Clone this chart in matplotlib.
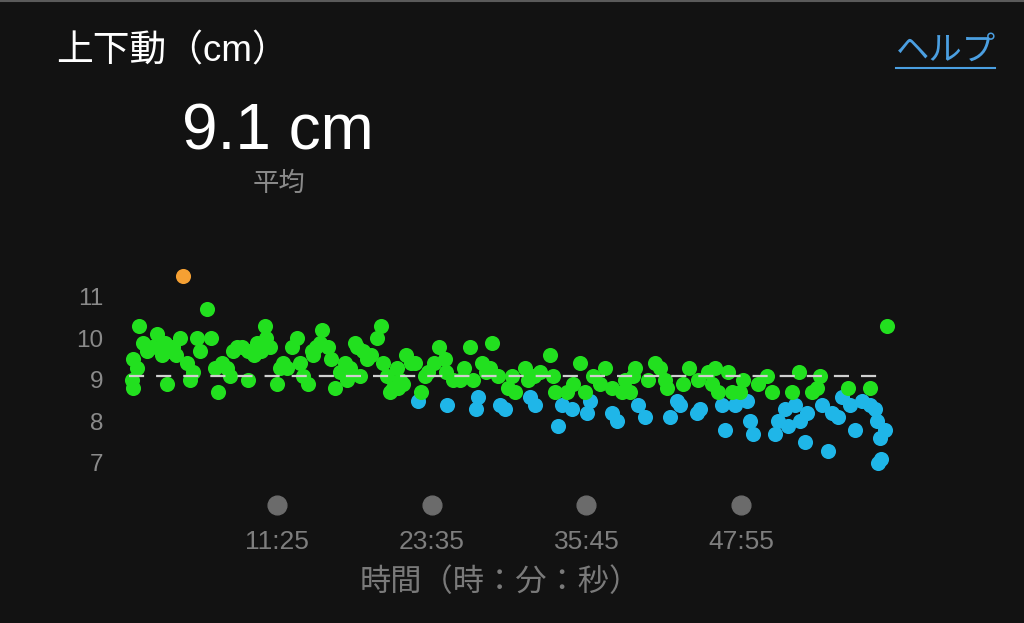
import matplotlib
matplotlib.use("Agg")
import matplotlib.pyplot as plt
from matplotlib.lines import Line2D
from matplotlib.ticker import FuncFormatter
import matplotlib.transforms as mtransforms

plt.rcParams["font.family"] = ["Liberation Sans", "Noto Sans CJK JP", "DejaVu Sans"]

# vertical oscillation samples: elapsed time (s) and value (cm), split by colour zone
green_time = [1, 6, 6, 25, 34, 53, 70, 95, 119, 133, 143, 155, 166, 180, 194, 210, 227,
              260, 275, 289, 308, 322, 355, 373, 393, 407, 426, 449, 463, 478, 497,
              520, 548, 550, 577, 591, 610, 629, 635, 652, 685, 700, 715, 732, 756,
              780, 794, 808, 832, 850, 855, 869, 888, 898, 926, 940, 959, 982, 1005,
              1015, 1030, 1053, 1063, 1077, 1090, 1110, 1128, 1157, 1175, 1185, 1204,
              1218, 1233, 1251, 1258, 1266, 1280, 1294, 1315, 1336, 1364, 1383, 1397,
              1426, 1450, 1478, 1483, 1516, 1549, 1568, 1596, 1610, 1652, 1670, 1690,
              1700, 1728, 1775, 1794, 1808, 1855, 1870, 1900, 1926, 1973, 1988, 1997,
              2054, 2082, 2115, 2139, 2176, 2209, 2233, 2266, 2313, 2327, 2351, 2365,
              2374, 2436, 2469, 2492, 2516, 2525, 2601, 2629, 2672, 2719, 2738, 2752,
              2766, 2813, 2832, 2870, 2884, 2955, 2997, 3021, 3115, 3148, 3210, 3233,
              3247, 3380, 3483, 3564]
green_cm = [9.0, 9.5, 8.8, 9.3, 10.3, 9.9, 9.7, 9.8, 10.1, 9.8, 9.6, 9.9, 8.9, 9.7, 9.8,
            9.6, 10.0, 9.4, 9.0, 9.2, 10.0, 9.7, 10.7, 10.0, 9.3, 8.7, 9.4, 9.3, 9.1,
            9.7, 9.8, 9.8, 9.7, 9.0, 9.6, 9.9, 9.7, 10.3, 10.0, 9.8, 8.9, 9.3, 9.4,
            9.3, 9.8, 10.0, 9.4, 9.1, 8.9, 9.7, 9.6, 9.8, 9.9, 10.2, 9.8, 9.5, 8.8,
            9.2, 9.4, 9.0, 9.3, 9.9, 9.8, 9.1, 9.7, 9.5, 9.6, 10.0, 10.3, 9.4, 9.1,
            8.7, 8.8, 9.3, 8.8, 9.0, 8.9, 9.6, 9.4, 9.4, 8.7, 9.1, 9.2, 9.4, 9.8, 9.5,
            9.2, 9.0, 9.0, 9.3, 9.8, 9.0, 9.4, 9.2, 9.3, 9.9, 9.1, 8.8, 9.1, 8.7, 9.3,
            9.0, 9.1, 9.2, 9.6, 9.1, 8.7, 8.7, 8.9, 9.4, 8.7, 9.1, 8.9, 9.3, 8.8, 8.7,
            9.0, 8.7, 9.1, 9.3, 9.0, 9.4, 9.3, 9.0, 8.8, 8.9, 9.3, 9.0, 9.2, 8.9, 9.3,
            8.7, 9.2, 8.7, 8.7, 9.0, 8.9, 9.1, 8.7, 8.7, 9.2, 8.7, 8.8, 9.1, 8.8, 8.8,
            10.3]
blue_time = [1350, 1487, 1624, 1634, 1737, 1761, 1879, 1903, 2011, 2030, 2077, 2148,
             2162, 2266, 2289, 2388, 2421, 2539, 2572, 2587, 2667, 2681, 2785, 2799,
             2846, 2903, 2917, 2931, 3035, 3049, 3082, 3096, 3129, 3153, 3177, 3186,
             3257, 3285, 3304, 3332, 3351, 3389, 3413, 3446, 3483, 3507, 3516, 3521,
             3531, 3535, 3554]
blue_cm = [8.5, 8.4, 8.3, 8.6, 8.4, 8.3, 8.6, 8.4, 7.9, 8.4, 8.3, 8.2, 8.5, 8.2, 8.0,
           8.4, 8.1, 8.1, 8.5, 8.4, 8.2, 8.3, 8.4, 7.8, 8.4, 8.5, 8.0, 7.7, 7.7, 8.0,
           8.3, 7.9, 8.4, 8.0, 7.5, 8.2, 8.4, 7.3, 8.2, 8.1, 8.6, 8.4, 7.8, 8.5, 8.4,
           8.3, 8.0, 7.0, 7.6, 7.1, 7.8]
orange_time = [242]
orange_cm = [11.5]

average_cm = 9.1
y_ticks = [7, 8, 9, 10, 11]
x_ticks = [685, 1415, 2145, 2875]  # 11:25, 23:35, 35:45, 47:55

BG = "#121212"
GREEN = "#22e01f"
BLUE = "#1fb6e8"
ORANGE = "#f5a033"
GRAY = "#8a8a8a"


def mmss(t, _pos=None):
    t = int(round(t))
    return f"{t // 60}:{t % 60:02d}"


fig = plt.figure(figsize=(10.24, 6.23), dpi=100, facecolor=BG)
ax = fig.add_axes([120 / 1024, 1 - 480 / 623, 780 / 1024, 215 / 623], facecolor=BG)

ax.scatter(blue_time, blue_cm, s=118, color=BLUE, linewidths=0, zorder=2)
ax.scatter(green_time, green_cm, s=118, color=GREEN, linewidths=0, zorder=3)
ax.scatter(orange_time, orange_cm, s=118, color=ORANGE, linewidths=0, zorder=3)

all_time = green_time + blue_time
ax.hlines(average_cm, min(all_time) - 15, max(all_time), colors="#d0d0d0",
          linewidth=1.6, linestyles=(0, (6.8, 5.4)), zorder=4)

ax.set_xlim(-56, 3625)
ax.set_ylim(6.59, 11.77)

ax.set_yticks(y_ticks)
ax.set_yticklabels([str(v) for v in y_ticks])
ax.set_xticks(x_ticks)
ax.xaxis.set_major_formatter(FuncFormatter(mmss))
ax.tick_params(axis="y", length=0, pad=12, labelsize=17.5, labelcolor=GRAY)
ax.tick_params(axis="x", length=0, pad=36, labelsize=19, labelcolor="#7e7e7e")
for spine in ax.spines.values():
    spine.set_visible(False)

# grey dots that mark the x ticks
trans = mtransforms.blended_transform_factory(ax.transData, ax.transAxes)
ax.plot(x_ticks, [-0.116] * len(x_ticks), "o", ms=13.5, color="#6b6b6b",
        transform=trans, clip_on=False)

fig.text(56 / 1024, 1 - 52 / 623, "上下動（cm）", color="white", fontsize=26.5,
         ha="left", va="center")
fig.text(278 / 1024, 1 - 133 / 623, f"{average_cm} cm", color="white", fontsize=46,
         ha="center", va="center")
fig.text(279 / 1024, 1 - 184 / 623, "平均", color=GRAY, fontsize=19,
         ha="center", va="center")
fig.text(946 / 1024, 1 - 51 / 623, "ヘルプ", color="#4b9fe1", fontsize=24,
         ha="center", va="center")
fig.add_artist(Line2D([896 / 1024, 995 / 1024], [1 - 68 / 623] * 2, color="#4b9fe1",
                      linewidth=1.5))
fig.text(500 / 1024, 1 - 583 / 623, "時間（時：分：秒）", color="#7a7a7a", fontsize=22.5,
         ha="center", va="center")
fig.add_artist(Line2D([0, 1], [0.999, 0.999], color="#5a5a5a", linewidth=1.5))

fig.savefig("out.png", dpi=100, facecolor=BG)
